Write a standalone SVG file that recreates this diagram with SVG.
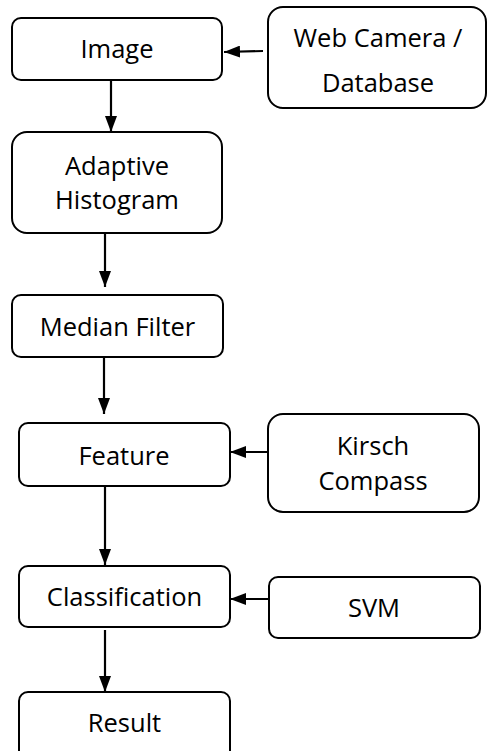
<svg xmlns="http://www.w3.org/2000/svg" width="488" height="751" viewBox="0 0 488 751">
<defs>
<marker id="ah" markerWidth="8" markerHeight="8" refX="7" refY="4" orient="auto" markerUnits="userSpaceOnUse" viewBox="0 0 8 8"><path d="M0,0 L8,4 L0,8 Z" fill="#000"/></marker>
<marker id="arr" viewBox="0 0 16 12" refX="16" refY="6" markerWidth="16" markerHeight="12" orient="auto" markerUnits="userSpaceOnUse"><path d="M0,0 L16,6 L0,12 Z" fill="#000"/></marker>
</defs>
<style>
.box{fill:#fff;stroke:#000;stroke-width:2}
.t{font-family:"Open Sans","Liberation Sans",sans-serif;font-size:25.5px;fill:#000;text-anchor:middle}
.c{stroke:#000;stroke-width:2.2;fill:none;marker-end:url(#arr)}
</style>
<rect width="488" height="751" fill="#fff"/>
<g id="connectors">
<line class="c" x1="111" y1="81" x2="111" y2="132"/>
<line class="c" x1="263" y1="51" x2="224" y2="52"/>
<line class="c" x1="105" y1="234" x2="105" y2="287"/>
<line class="c" x1="104" y1="357" x2="104" y2="414"/>
<line class="c" x1="268" y1="452" x2="230" y2="452"/>
<line class="c" x1="105" y1="486" x2="105" y2="565"/>
<line class="c" x1="269" y1="599" x2="230" y2="599"/>
<line class="c" x1="105" y1="630" x2="105" y2="692"/>
</g>
<g id="image"><rect class="box" x="12" y="18" width="210" height="62" rx="9"/><text class="t" x="117" y="58">Image</text></g>
<g id="webcam"><rect class="box" x="268" y="7" width="218" height="101" rx="15"/><text class="t" x="378" y="47">Web Camera /</text><text class="t" x="378" y="92">Database</text></g>
<g id="adaptive"><rect class="box" x="12" y="132" width="210" height="101" rx="15"/><text class="t" x="117" y="175">Adaptive</text><text class="t" x="117" y="209">Histogram</text></g>
<g id="median"><rect class="box" x="12" y="295" width="211" height="62" rx="9"/><text class="t" x="117.5" y="336">Median Filter</text></g>
<g id="feature"><rect class="box" x="19" y="423" width="211" height="63" rx="9"/><text class="t" x="124" y="465">Feature</text></g>
<g id="kirsch"><rect class="box" x="268" y="414" width="211" height="98" rx="15"/><text class="t" x="373" y="455">Kirsch</text><text class="t" x="373" y="490">Compass</text></g>
<g id="classification"><rect class="box" x="19" y="566" width="211" height="61" rx="9"/><text class="t" x="124.5" y="606">Classification</text></g>
<g id="svm"><rect class="box" x="269" y="577" width="211" height="61" rx="9"/><text class="t" x="374" y="617">SVM</text></g>
<g id="result"><rect class="box" x="19" y="692" width="211" height="70" rx="9"/><text class="t" x="124.5" y="732">Result</text></g>
</svg>
